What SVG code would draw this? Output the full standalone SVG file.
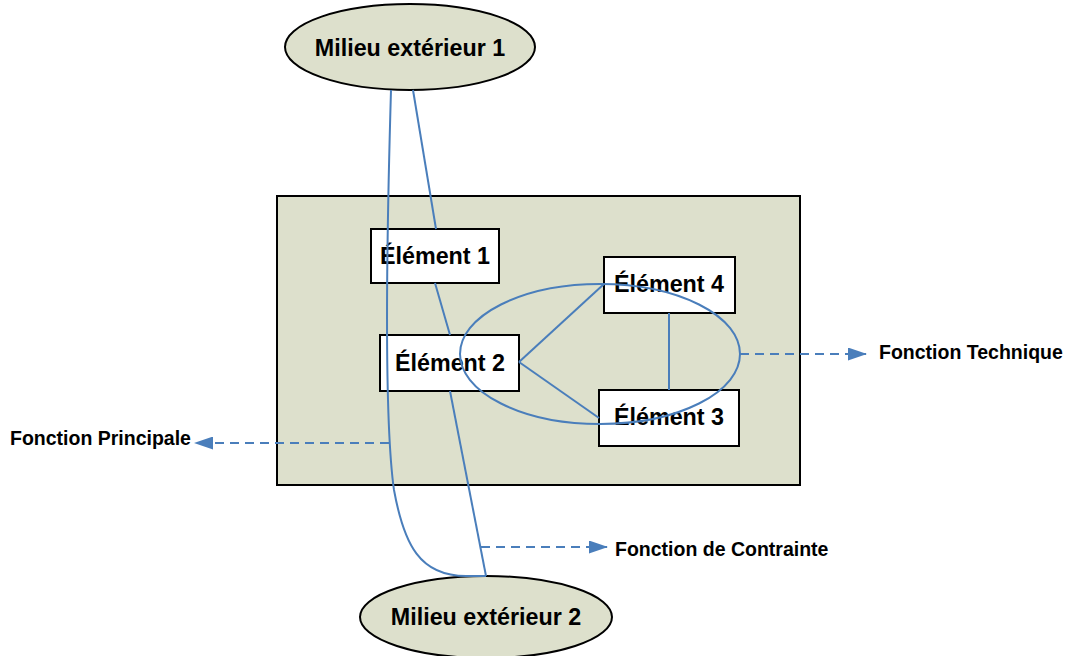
<svg xmlns="http://www.w3.org/2000/svg" width="1070" height="656" viewBox="0 0 1070 656">
  <style>
    .env { fill: #DDE0CC; stroke: #000; stroke-width: 2; }
    .sys { fill: #DDE0CC; stroke: #000; stroke-width: 2; }
    .box { fill: #fff; stroke: #000; stroke-width: 2; }
    .big { font-family: "Liberation Sans", Arial, sans-serif; font-weight: bold; font-size: 23.3px; fill: #000; text-anchor: middle; }
    .lbl { font-family: "Liberation Sans", Arial, sans-serif; font-weight: bold; font-size: 19.5px; fill: #000; }
    .link { fill: none; stroke: #4A7EBB; stroke-width: 2; }
    .fn { fill: none; stroke: #4A7EBB; stroke-width: 2; stroke-dasharray: 9 6; }
  </style>
  <defs>
    <marker id="arrow" markerWidth="19" markerHeight="13" refX="18" refY="6.5" orient="auto" markerUnits="userSpaceOnUse">
      <path d="M0,0 L19,6.5 L0,13 Z" fill="#4A7EBB"/>
    </marker>
  </defs>

  <rect width="1070" height="656" fill="#fff"/>

  <!-- system boundary -->
  <g id="system">
    <rect class="sys" x="277" y="196" width="523" height="289"/>
  </g>

  <!-- external environments -->
  <g id="milieu1">
    <ellipse class="env" cx="410" cy="47" rx="125" ry="43"/>
    <text class="big" x="410" y="56">Milieu extérieur 1</text>
  </g>
  <g id="milieu2">
    <ellipse class="env" cx="486" cy="617" rx="126" ry="41"/>
    <text class="big" x="486" y="625">Milieu extérieur 2</text>
  </g>

  <!-- elements -->
  <g id="element1">
    <rect class="box" x="371" y="229" width="128" height="54"/>
    <text class="big" x="435" y="264">Élément 1</text>
  </g>
  <g id="element2">
    <rect class="box" x="380" y="335" width="139" height="56"/>
    <text class="big" x="450" y="371">Élément 2</text>
  </g>
  <g id="element4">
    <rect class="box" x="604" y="257" width="131" height="56"/>
    <text class="big" x="669" y="292">Élément 4</text>
  </g>
  <g id="element3">
    <rect class="box" x="599" y="390" width="140" height="56"/>
    <text class="big" x="669" y="425">Élément 3</text>
  </g>

  <!-- connectors -->
  <g id="connectors">
    <line class="link" x1="413" y1="90" x2="436" y2="229"/>
    <line class="link" x1="435" y1="283" x2="450" y2="335"/>
    <line class="link" x1="519" y1="362" x2="604" y2="284"/>
    <line class="link" x1="519" y1="362" x2="599" y2="418"/>
    <line class="link" x1="669" y1="313" x2="669" y2="390"/>
    <line class="link" x1="450" y1="391" x2="486" y2="576"/>
    <path class="link" d="M391,90 C386,260 384,420 394,490 C404,545 420,576 466,576 L486,576"/>
    <ellipse class="link" cx="600" cy="354" rx="140" ry="70"/>

    <line class="fn" x1="389" y1="443" x2="195" y2="443" marker-end="url(#arrow)"/>
    <line class="fn" x1="481" y1="547" x2="607" y2="547" marker-end="url(#arrow)"/>
    <line class="fn" x1="740" y1="354" x2="866" y2="354" marker-end="url(#arrow)"/>
  </g>

  <!-- function labels -->
  <g id="labels">
    <text class="lbl" x="10" y="445">Fonction Principale</text>
    <text class="lbl" x="615" y="556">Fonction de Contrainte</text>
    <text class="lbl" x="879" y="359">Fonction Technique</text>
  </g>
</svg>
